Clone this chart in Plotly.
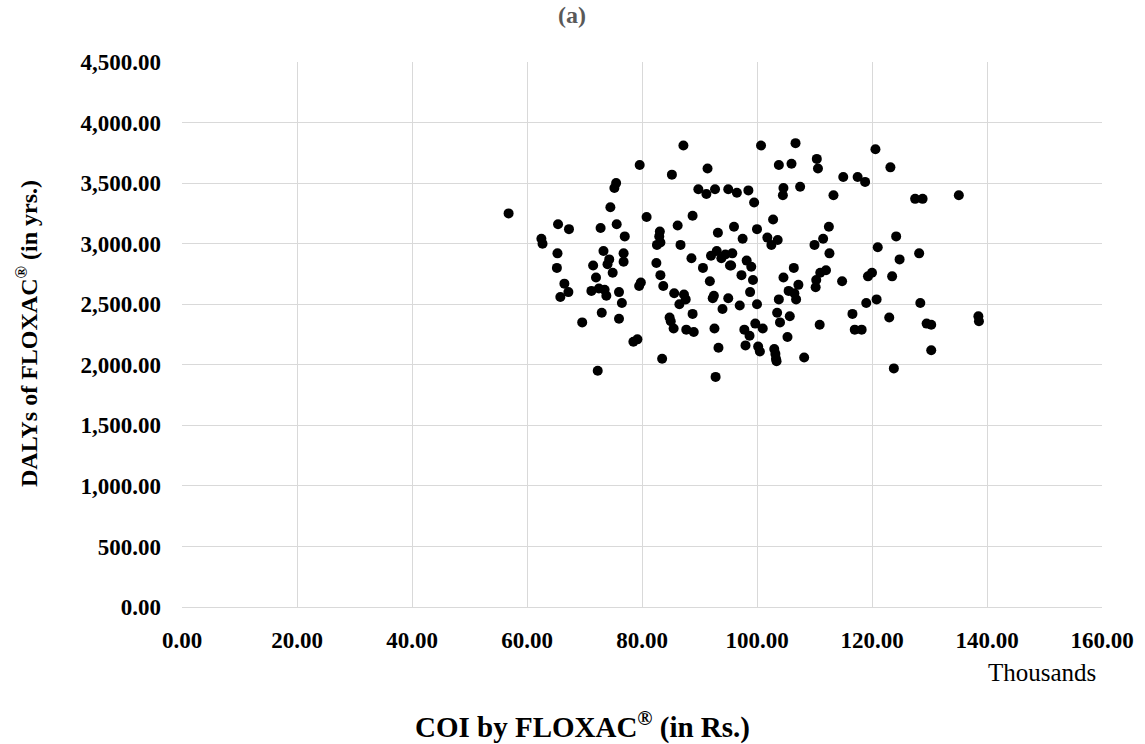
import plotly.graph_objects as go

coi_thousands = [
    56.8, 62.5, 62.7, 65.4, 65.3, 65.2, 65.8, 66.5, 67.3, 67.2, 69.6,
    71.2, 71.5, 72.0, 72.5, 72.3, 72.8, 73.0, 73.3, 73.5, 73.8, 74.0,
    74.5, 74.3, 74.9, 75.2, 75.5, 75.6, 76.0, 76.0, 76.5, 76.8, 76.8, 77.0,
    78.5, 79.2, 79.5, 79.8, 79.6, 80.8,
    82.5, 82.6, 83.0, 83.1, 83.2, 83.2, 83.5, 83.7, 84.8, 85.0, 85.2, 85.5, 85.6,
    86.2, 86.7, 86.5, 87.2, 87.3, 87.7, 87.6, 88.6, 88.8, 88.8, 89.0, 89.8,
    90.6, 91.2, 91.4, 91.8, 92.0, 92.3, 92.5, 92.6, 92.7, 92.8, 93.0, 93.2, 93.3,
    93.8, 94.0, 94.5, 95.0, 95.0, 95.3, 95.5, 95.7, 96.0, 96.5, 97.0, 97.3, 97.5,
    97.8, 98.0, 98.2, 98.5, 98.7, 98.8, 99.0, 99.3, 99.5, 99.7, 100.0, 100.0,
    100.2, 100.5, 100.7, 101.0,
    101.8, 102.5, 102.8, 103.0, 103.2, 103.3, 103.4, 103.5, 103.6, 103.8, 103.8,
    104.0, 104.5, 104.6, 104.6, 105.3, 105.5, 105.7, 106.0, 106.4, 106.5, 106.7,
    106.8, 107.2, 107.5, 108.2,
    110.0, 110.2, 110.3, 110.4, 110.6, 110.9, 111.0, 111.5, 112.0, 112.5, 112.6,
    113.3, 114.8, 115.0,
    116.6, 117.0, 117.5, 118.2, 118.8, 119.0, 119.3, 120.0, 120.6, 120.8, 121.0,
    123.0, 123.2, 123.5, 123.8, 124.2, 124.8,
    127.5, 128.2, 128.4, 128.8, 129.5, 130.3, 130.3,
    135.1, 138.5, 138.6,
]
dalys_years = [
    3250, 3040, 3000, 3160, 2920, 2800, 2560, 2670, 3120, 2600, 2350,
    2610, 2820, 2720, 2630, 1950, 3130, 2430, 2940, 2620, 2570, 2830,
    3300, 2870, 2760, 3460, 3500, 3160, 2600, 2380, 2510, 2920, 2850, 3060,
    2190, 2210, 2650, 2680, 3650, 3220,
    2840, 2990, 3060, 3100, 3010, 2740, 2050, 2650, 2390, 2360, 3570, 2300, 2590,
    3150, 2990, 2500, 3810, 2580, 2290, 2540, 2880, 2420, 3230, 2270, 3450,
    2800, 3410, 3620, 2690, 2900, 2550, 2570, 2300, 3450, 1900, 2940, 3090, 2140,
    2880, 2460, 2910, 3450, 2550, 2820, 2820, 2920, 3140, 3420, 2490, 2740, 3040,
    2290, 2160, 2860, 3440, 2240, 2600, 2810, 2700, 3340, 2340, 3120, 2500,
    2150, 2110, 3810, 2300,
    3050, 2990, 3200, 2130, 2090, 2050, 2030, 2430, 3030, 3650, 2540,
    2350, 3400, 3460, 2720, 2230, 2610, 2400, 3660, 2800, 2590, 3830,
    2540, 2660, 3470, 2060,
    2990, 2640, 2700, 3700, 3620, 2330, 2760, 3040, 2780, 3140, 2920,
    3400, 2690, 3550,
    2420, 2290, 3550, 2290, 3510, 2510, 2730, 2760, 3780, 2540, 2970,
    2390, 3630, 2730, 1970, 3060, 2870,
    3370, 2920, 2510, 3370, 2340, 2330, 2120,
    3400, 2400, 2360,
]

x_ticks = [0, 20, 40, 60, 80, 100, 120, 140, 160]
y_ticks = [0, 500, 1000, 1500, 2000, 2500, 3000, 3500, 4000, 4500]

FONT = "Liberation Serif"
GRID = "#d9d9d9"
L, R, T, B = 182, 1102, 62, 607
PW, PH = R - L, B - T


def px(xp):
    return (xp - L) / PW


def py(yp):
    return (B - yp) / PH


fig = go.Figure()
fig.add_trace(go.Scatter(
    x=coi_thousands, y=dalys_years, mode="markers",
    marker=dict(color="black", size=10, line=dict(width=0)),
    showlegend=False, cliponaxis=False,
))

fig.update_layout(
    width=1145, height=744,
    margin=dict(l=L, r=1145 - R, t=T, b=744 - B),
    paper_bgcolor="white", plot_bgcolor="white",
    font=dict(family=FONT, color="black"),
    xaxis=dict(
        range=[0, 160], tickvals=x_ticks,
        ticktext=[f"<b>{v:.2f}</b>" for v in x_ticks],
        showgrid=True, gridcolor=GRID, gridwidth=1,
        showline=True, linecolor=GRID, linewidth=1, mirror=False,
        zeroline=False, ticks="", ticklabelstandoff=12,
        tickfont=dict(family=FONT, size=23, color="black"),
    ),
    yaxis=dict(
        range=[0, 4500], tickvals=y_ticks,
        ticktext=[f"<b>{v:,.2f}</b>" for v in y_ticks],
        showgrid=True, gridcolor=GRID, gridwidth=1,
        showline=False, zeroline=False, ticks="", ticklabelstandoff=20,
        tickfont=dict(family=FONT, size=23, color="black"),
    ),
    annotations=[
        dict(text="<b>(a)</b>", x=px(572), y=py(15), xref="paper", yref="paper",
             xanchor="center", yanchor="middle", showarrow=False,
             font=dict(family=FONT, size=24, color="#595959")),
        dict(text="<b>COI by FLOXAC<sup>®</sup> (in Rs.)</b>",
             x=px(582), y=py(725), xref="paper", yref="paper",
             xanchor="center", yanchor="middle", showarrow=False,
             font=dict(family=FONT, size=29, color="black")),
        dict(text="<b>DALYs of FLOXAC<sup>®</sup> (in yrs.)</b>",
             x=px(27), y=py(334), xref="paper", yref="paper",
             xanchor="center", yanchor="middle", textangle=-90, showarrow=False,
             font=dict(family=FONT, size=24, color="black")),
        dict(text="Thousands",
             x=px(1098), y=py(672), xref="paper", yref="paper",
             xanchor="right", yanchor="middle", showarrow=False,
             font=dict(family=FONT, size=25, color="black")),
    ],
)

fig.write_html("out.html")
